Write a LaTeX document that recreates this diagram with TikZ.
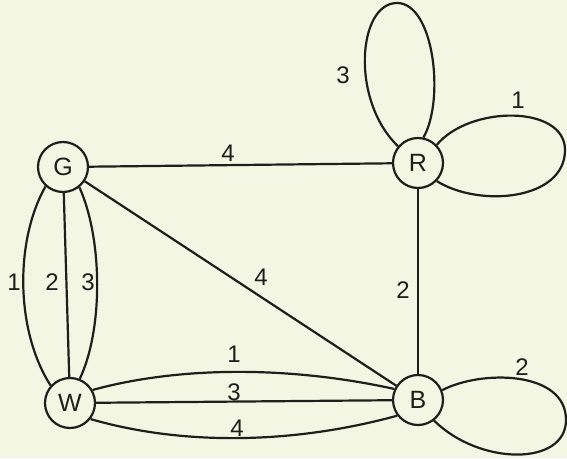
\documentclass[tikz,border=0pt]{standalone}
\usepackage{fontspec}
\setmainfont{Liberation Sans}
\definecolor{paper}{HTML}{F4F6E4}
\definecolor{ink}{HTML}{1E1E1A}
\begin{document}
\begin{tikzpicture}[x=1pt,y=1pt,
  vert/.style={circle,draw=ink,line width=2.2pt,minimum size=50pt,inner sep=0pt,font=\fontsize{25}{25}\selectfont,text=ink},
  edge/.style={draw=ink,line width=2.2pt},
  lbl/.style={font=\fontsize{24}{24}\selectfont,text=ink,inner sep=0pt}]
\fill[paper] (0,0) rectangle (567,458);
\useasboundingbox (0,0) rectangle (567,458);
% vertices (image y -> 458 - y)
\node[vert] (G) at (63,291) {G};
\node[vert] (R) at (418,295) {R};
\node[vert] (W) at (70,55) {W};
\node[vert] (B) at (418,58) {B};
% G - W
\draw[edge] (G.-132) .. controls (15,218) and (15,128) .. (W.138);
\draw[edge] (G) -- (W);
\draw[edge] (G.-51) .. controls (103,218) and (103,128) .. (W.68);
% W - B
\draw[edge] (W.30) .. controls (180,92) and (290,92) .. (B.155);
\draw[edge] (W) -- (B);
\draw[edge] (W.-38) .. controls (180,13) and (290,13) .. (B.-143);
% others
\draw[edge] (G) -- (R);
\draw[edge] (G) -- (B);
\draw[edge] (R) -- (B);
% loops at R
\draw[edge] (R.140) .. controls (350,358) and (358,455) .. (397,455)
                     .. controls (434,455) and (445,358) .. (R.78);
\draw[edge] (R.44) .. controls (470,353) and (565,353) .. (565,308)
                    .. controls (565,258) and (480,250) .. (R.-44);
% loop at B
\draw[edge] (B.22) .. controls (480,88) and (566,88) .. (566,38)
                    .. controls (566,-8) and (480,-8) .. (B.-52);
% labels
\node[lbl] (l1) at (14,176) {1};
\node[lbl] (l2) at (52,176) {2};
\node[lbl] (l3) at (88,176) {3};
\node[lbl] (l4) at (228,305) {4};
\node[lbl] (l5) at (261,181) {4};
\node[lbl] (l6) at (403,168) {2};
\node[lbl] (l7) at (234,104) {1};
\node[lbl] (l8) at (234,66) {3};
\node[lbl] (l9) at (237,30) {4};
\node[lbl] (l10) at (343,383) {3};
\node[lbl] (l11) at (518,358) {1};
\node[lbl] (l12) at (522,91) {2};
\end{tikzpicture}
\end{document}
